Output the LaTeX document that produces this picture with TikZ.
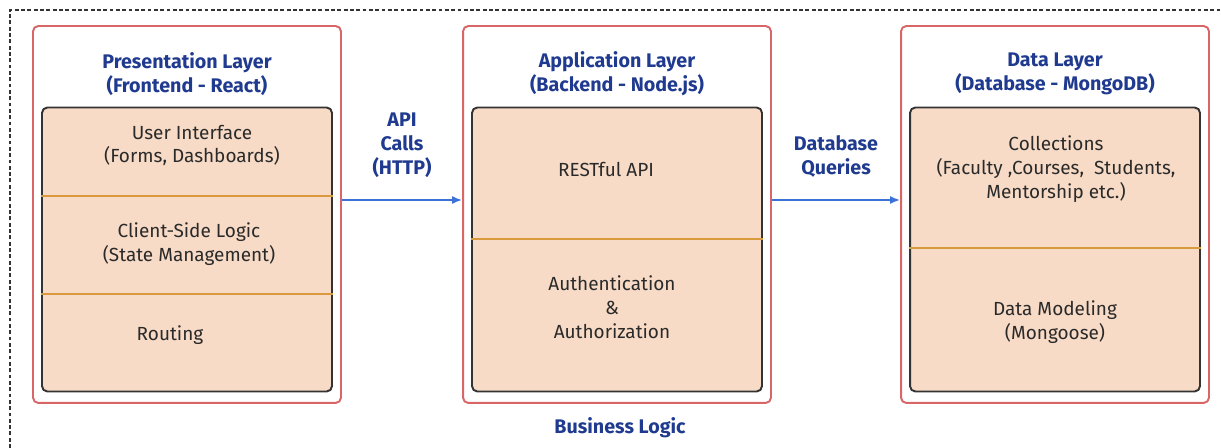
\documentclass[tikz,border=0pt]{standalone}
\usepackage{fontspec}
\setmainfont{Fira Sans}
\usepackage{tikz}
\usetikzlibrary{arrows.meta}

\definecolor{navy}{HTML}{1F3A8F}
\definecolor{layerred}{HTML}{D96666}
\definecolor{stackgray}{HTML}{333333}
\definecolor{peach}{HTML}{F7DBC6}
\definecolor{ochre}{HTML}{D89A3C}
\definecolor{linkblue}{HTML}{3C72D8}
\definecolor{textgray}{HTML}{2A2A2A}

\begin{document}
\begin{tikzpicture}[
      x=0.02cm, y=-0.02cm,
      font=\fontsize{10.8}{13.6}\selectfont,
      layer/.style={draw=layerred, line width=1.1pt, rounded corners=3pt,
                    minimum width=6.16cm, minimum height=7.54cm, inner sep=0pt},
      stack/.style={draw=stackgray, line width=1.1pt, rounded corners=3pt, fill=peach,
                    minimum width=5.8cm, minimum height=5.68cm, inner sep=0pt},
      title/.style={align=center, text=navy, font=\fontsize{11.2}{13.6}\selectfont\bfseries},
      item/.style={align=center, text=textgray},
      divider/.style={draw=ochre, line width=1.1pt},
      arr/.style={-{Latex[length=2mm, width=1.6mm]}, draw=linkblue, line width=0.9pt},
      frame/.style={draw=stackgray, line width=0.9pt, dash pattern=on 2.2pt off 1.4pt},
    ]
    \useasboundingbox (0,0) rectangle (1221,448);
    % -- outer dashed frame --
    \coordinate (fb) at (10,448);
    \coordinate (fc) at (10,10);
    \coordinate (fr) at (1221,10);
    \draw[frame] (fb) -- (fc) -- (fr);
    % -- three layers --
    \foreach \n/\x/\lab in {
        p/187/Presentation Layer\\(Frontend - React),
        a/617/Application Layer\\(Backend - Node.js),
        d/1055/Data Layer\\(Database - MongoDB)} {
      \node[layer] (\n) at (\x,214.5) {};
      \node[stack] (\n-in) at (\x,249.5) {};
      \node[title] (\n-t) at (\x,74) {\lab};
    }
    % -- dividers --
    \foreach \n/\y in {p/196, p/294, a/239, d/248}
      \draw[divider] (\n-in.west |- 0,\y) -- (\n-in.east |- 0,\y);
    % -- contents --
    \node[item] (p1) at (192,145.5) {User Interface\\(Forms, Dashboards)};
    \node[item] (p2) at (189,244) {Client-Side Logic\\(State Management)};
    \node[item] (p3) at (170,335) {Routing};
    \node[item] (a1) at (606,170) {RESTful API};
    \node[item] (a2) at (612,307) {Authentication\\\&\\Authorization};
    \node[item] (d1) at (1056,169) {Collections\\(Faculty ,Courses,~ Students,\\Mentorship etc.)};
    \node[item] (d2) at (1055,322.5) {Data Modeling\\(Mongoose)};
    % -- connectors --
    \draw[arr] (p.east |- 0,200) -- node[title, above=9pt] (api) {API\\Calls\\(HTTP)} (a.west |- 0,200);
    \draw[arr] (a.east |- 0,200) -- node[title, above=9pt] (dbq) {Database\\Queries} (d.west |- 0,200);
    \node[title] (biz) at (620,428) {Business Logic};
  \end{tikzpicture}
\end{document}
